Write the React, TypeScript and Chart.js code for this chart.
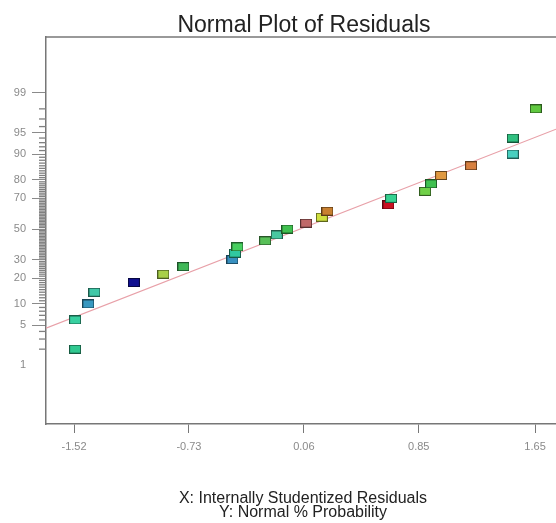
import React, { useEffect, useRef } from "react";
import { Chart, registerables } from "chart.js";

Chart.register(...registerables);

// Internally studentized residuals (x) and their normal % probabilities (y)
const residuals = [
  -1.513, -1.513, -1.422, -1.38, -1.109, -0.906, -0.768, -0.431, -0.413,
  -0.397, -0.206, -0.126, -0.053, 0.076, 0.184, 0.222, 0.642, 0.66, 0.894,
  0.935, 1.004, 1.21, 1.497, 1.497, 1.655,
];
const probabilities = [
  2, 6, 10, 14, 18, 22, 26, 30, 34, 38, 42, 46, 50, 54, 58, 62, 66, 70, 74, 78,
  82, 86, 90, 94, 98,
];
const pointColors = [
  "#30c890", "#38d0a0", "#3898c0", "#40c8a8", "#101090", "#a8d048",
  "#40b858", "#3890c0", "#30c8a0", "#48d060", "#58c058", "#48c8a0",
  "#40c050", "#c06868", "#d0e040", "#c88030", "#c81020", "#38d090",
  "#70d048", "#40c050", "#e09840", "#d88040", "#48d0c0", "#30c080",
  "#60c840",
];

// Reference (fitted) line
const fitResiduals = [-1.713, 1.794];
const fitProbabilities = [4.5, 95.6];

// Axis ticks
const xTickValues = [-1.52, -0.73, 0.06, 0.85, 1.65];
const xTickLabels = ["-1.52", "-0.73", "0.06", "0.85", "1.65"];
const yMajorProbabilities = [1, 5, 10, 20, 30, 50, 70, 80, 90, 95, 99];
const yMinorProbabilities: number[] = [];
for (let p = 2; p <= 98; p++) {
  if (!yMajorProbabilities.includes(p)) yMinorProbabilities.push(p);
}

// Inverse standard normal CDF (Acklam) — maps % probability to the probit scale
function probit(p: number): number {
  const a = [-3.969683028665376e1, 2.209460984245205e2, -2.759285104469687e2,
    1.38357751867269e2, -3.066479806614716e1, 2.506628277459239];
  const b = [-5.447609879822406e1, 1.615858368580409e2, -1.556989798598866e2,
    6.680131188771972e1, -1.328068155288572e1];
  const c = [-7.784894002430293e-3, -3.223964580411365e-1, -2.400758277161838,
    -2.549732539343734, 4.374664141464968, 2.938163982698783];
  const d = [7.784695709041462e-3, 3.224671290700398e-1, 2.445134137142996,
    3.754408661907416];
  const pl = 0.02425;
  if (p < pl) {
    const q = Math.sqrt(-2 * Math.log(p));
    return (((((c[0] * q + c[1]) * q + c[2]) * q + c[3]) * q + c[4]) * q + c[5]) /
      ((((d[0] * q + d[1]) * q + d[2]) * q + d[3]) * q + 1);
  }
  if (p > 1 - pl) {
    const q = Math.sqrt(-2 * Math.log(1 - p));
    return -(((((c[0] * q + c[1]) * q + c[2]) * q + c[3]) * q + c[4]) * q + c[5]) /
      ((((d[0] * q + d[1]) * q + d[2]) * q + d[3]) * q + 1);
  }
  const q = p - 0.5;
  const r = q * q;
  return ((((((a[0] * r + a[1]) * r + a[2]) * r + a[3]) * r + a[4]) * r + a[5]) * q) /
    (((((b[0] * r + b[1]) * r + b[2]) * r + b[3]) * r + b[4]) * r + 1);
}

function darken(hex: string, f: number): string {
  const n = parseInt(hex.slice(1), 16);
  const r = Math.round(((n >> 16) & 255) * f);
  const g = Math.round(((n >> 8) & 255) * f);
  const bl = Math.round((n & 255) * f);
  return `rgb(${r},${g},${bl})`;
}

function makeMarker(color: string): HTMLCanvasElement {
  const w = 12, h = 9;
  const cv = document.createElement("canvas");
  cv.width = w;
  cv.height = h;
  const g = cv.getContext("2d")!;
  g.fillStyle = color;
  g.fillRect(0, 0, w, h);
  g.strokeStyle = darken(color, 0.45);
  g.lineWidth = 1;
  g.strokeRect(0.5, 0.5, w - 1, h - 1);
  return cv;
}

const frameAndMinorTicks = {
  id: "frameAndMinorTicks",
  afterDraw(chart: any) {
    const { ctx, chartArea, scales } = chart;
    const y = scales.y;
    ctx.save();
    ctx.strokeStyle = "#808080";
    ctx.lineWidth = 1.3;
    for (const p of yMinorProbabilities) {
      const py = y.getPixelForValue(probit(p / 100));
      ctx.beginPath();
      ctx.moveTo(chartArea.left - 7, py);
      ctx.lineTo(chartArea.left, py);
      ctx.stroke();
    }
    ctx.strokeStyle = "#777";
    ctx.lineWidth = 1.5;
    ctx.beginPath();
    ctx.moveTo(chartArea.left, chartArea.top);
    ctx.lineTo(chartArea.right, chartArea.top);
    ctx.stroke();
    ctx.restore();
  },
};

export default function App() {
  const ref = useRef<HTMLCanvasElement>(null);

  useEffect(() => {
    if (!ref.current) return;
    const pts = residuals.map((x, i) => ({ x, y: probit(probabilities[i] / 100) }));
    const fit = fitResiduals.map((x, i) => ({ x, y: probit(fitProbabilities[i] / 100) }));
    const tickFont = { family: "'Liberation Sans', Arial, sans-serif", size: 11 };
    const chart = new Chart(ref.current, {
      type: "scatter",
      data: {
        datasets: [
          {
            type: "line",
            data: fit,
            borderColor: "#e8a0a8",
            borderWidth: 1.2,
            pointRadius: 0,
            fill: false,
            order: 2,
          } as any,
          {
            data: pts,
            pointStyle: pointColors.map(makeMarker) as any,
            pointRadius: 6,
            order: 1,
          },
        ],
      },
      options: {
        responsive: false,
        animation: false,
        layout: { autoPadding: false, padding: { top: 37, bottom: 59, left: 0, right: 0 } },
        plugins: {
          legend: { display: false },
          tooltip: { enabled: false },
          title: { display: false },
        },
        scales: {
          x: {
            type: "linear",
            min: -1.713,
            max: 1.794,
            afterBuildTicks: (s: any) => {
              s.ticks = xTickValues.map((v) => ({ value: v }));
            },
            afterFit: (s: any) => {
              s.height = 40;
              s.paddingLeft = 0;
              s.paddingRight = 0;
            },
            ticks: {
              callback: (_v: any, i: number) => xTickLabels[i],
              font: tickFont,
              color: "#8a8a8a",
              padding: 7,
              maxRotation: 0,
              autoSkip: false,
            },
            grid: { drawOnChartArea: false, tickLength: 9, tickColor: "#777", tickWidth: 1 },
            border: { color: "#777", width: 1.5 },
          },
          y: {
            type: "linear",
            min: -3.333,
            max: 3.282,
            afterBuildTicks: (s: any) => {
              s.ticks = yMajorProbabilities.map((p) => ({ value: probit(p / 100) }));
            },
            afterFit: (s: any) => {
              s.width = 46;
              s.paddingTop = 0;
              s.paddingBottom = 0;
            },
            ticks: {
              callback: (_v: any, i: number) => String(yMajorProbabilities[i]),
              font: tickFont,
              color: "#8a8a8a",
              padding: 6,
              autoSkip: false,
            },
            grid: {
              drawOnChartArea: false,
              tickLength: 14,
              tickWidth: 1,
              tickColor: (ctx: any) => (ctx.index === 0 ? "rgba(0,0,0,0)" : "#8a8a8a"),
            },
            border: { color: "#777", width: 1.5 },
          },
        },
      },
      plugins: [frameAndMinorTicks],
    });
    return () => chart.destroy();
  }, []);

  const font = "'Liberation Sans', Arial, sans-serif";
  return (
    <div style={{ position: "absolute", left: 0, top: 0, width: 556, height: 523, overflow: "hidden", background: "#fff" }}>
      <canvas ref={ref} width={556} height={523} style={{ position: "absolute", left: 0, top: 0 }} />
      <div
        style={{
          position: "absolute", left: 0, width: 608, top: 11, textAlign: "center",
          fontFamily: font, fontSize: 23, lineHeight: "26px", color: "#222",
        }}
      >
        Normal Plot of Residuals
      </div>
      <div
        style={{
          position: "absolute", left: 0, width: 606, top: 491, textAlign: "center",
          fontFamily: font, fontSize: 16, lineHeight: "14px", color: "#222",
        }}
      >
        <div>X: Internally Studentized Residuals</div>
        <div>Y: Normal % Probability</div>
      </div>
    </div>
  );
}
